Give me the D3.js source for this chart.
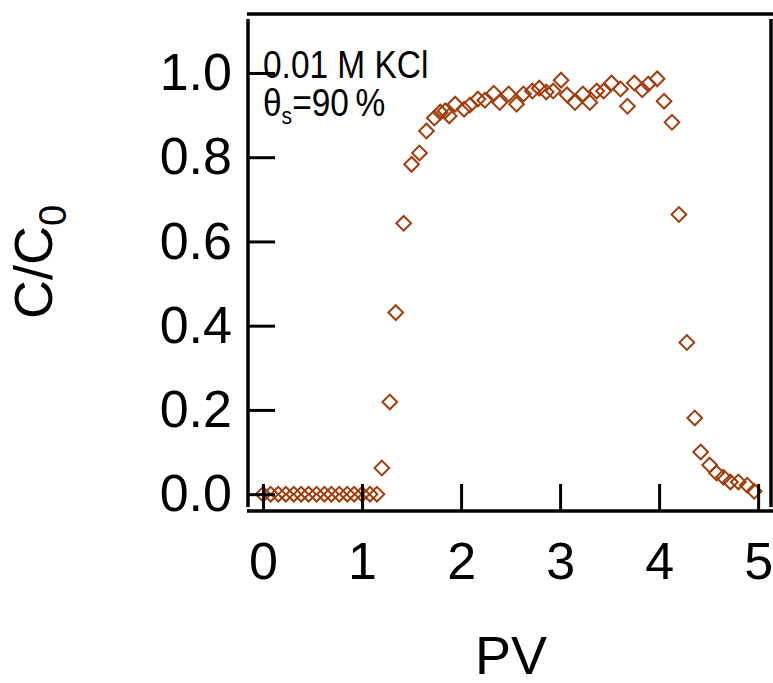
<!DOCTYPE html>
<html>
<head>
<meta charset="utf-8">
<script src="https://cdn.jsdelivr.net/npm/d3@7"></script>
<style>
  body { margin: 0; background: #fff; }
  text { font-family: "Liberation Sans", Arial, sans-serif; fill: #000; }
</style>
</head>
<body>
<svg id="chart" width="773" height="683"></svg>
<script>
// breakthrough curve, 0.01 M KCl
let pvValues = [0, 0.077, 0.154, 0.23, 0.31, 0.385, 0.46, 0.54, 0.62, 0.69, 0.77, 0.85, 0.92, 1.0, 1.08, 1.15,
    1.20, 1.28, 1.34, 1.42, 1.50, 1.58, 1.65, 1.73, 1.79, 1.84,
    1.88, 1.94, 2.03, 2.09, 2.17, 2.24, 2.33, 2.39, 2.48, 2.56,
    2.63, 2.72, 2.79, 2.86, 2.93, 3.01, 3.07, 3.15, 3.23, 3.30,
    3.37, 3.44, 3.52, 3.61, 3.68, 3.75, 3.83, 3.89, 3.98, 4.05,
    4.13, 4.20, 4.28, 4.36, 4.42, 4.51, 4.58, 4.65, 4.72, 4.80,
    4.89, 4.96];
let cValues = [0, 0, 0, 0, 0, 0, 0, 0, 0, 0, 0, 0, 0, 0, 0, 0,
    0.062, 0.219, 0.431, 0.643, 0.783, 0.81, 0.862, 0.893, 0.907, 0.91,
    0.898, 0.926, 0.914, 0.924, 0.938, 0.935, 0.952, 0.93, 0.95, 0.926,
    0.95, 0.957, 0.964, 0.955, 0.957, 0.983, 0.948, 0.93, 0.95, 0.93,
    0.957, 0.957, 0.976, 0.962, 0.921, 0.976, 0.96, 0.974, 0.986, 0.933,
    0.883, 0.664, 0.36, 0.181, 0.10, 0.069, 0.05, 0.04, 0.029, 0.029,
    0.021, 0.007];
let xTicks = [0, 1, 2, 3, 4, 5];
let yTicks = [0, 0.2, 0.4, 0.6, 0.8, 1.0];

let svg = d3.select('#chart');
let pad = {t: 14, r: 2, b: 172, l: 248};
let W = +svg.attr('width'), H = +svg.attr('height');
let markerColor = '#a23d0c';

let x = d3.scaleLinear().domain([-0.152, 5.13]).range([pad.l, W - pad.r]);
let y = d3.scaleLinear().domain([-0.04, 1.14]).range([H - pad.b, pad.t]);

// markers
let pts = pvValues.map((v, i) => ({pv: v, c: cValues[i]}));
svg.append('g').selectAll('path')
    .data(pts)
    .enter()
    .append('path')
    .attr('d', d3.symbol(d3.symbolSquare, 108))
    .attr('transform', d => `translate(${x(d.pv)},${y(d.c)}) rotate(45)`)
    .attr('fill', 'none')
    .attr('stroke', markerColor)
    .attr('stroke-width', 2);

// axes, ticks pointing inward
let yAxis = d3.axisLeft(y).tickValues(yTicks).tickFormat(d3.format('.1f'))
    .tickSizeInner(-27).tickSizeOuter(0).tickPadding(16);
let gy = svg.append('g').attr('transform', `translate(${pad.l},0)`).call(yAxis);
gy.select('.domain').remove();
gy.selectAll('line').attr('stroke-width', 3);
gy.selectAll('text').style('font-size', '52px');

let xAxis = d3.axisBottom(x).tickValues(xTicks).tickFormat(d3.format('d'))
    .tickSizeInner(-27).tickSizeOuter(0).tickPadding(31);
let gx = svg.append('g').attr('transform', `translate(0,${H - pad.b})`).call(xAxis);
gx.select('.domain').remove();
gx.selectAll('line').attr('stroke-width', 3);
gx.selectAll('text').style('font-size', '52px');

// frame
let x0 = x.range()[0], x1 = x.range()[1], yb = y.range()[0], yt = y.range()[1];
let frame = svg.append('g').attr('stroke', '#000').attr('stroke-width', 3.5);
frame.append('line').attr('x1', x0 - 1).attr('x2', W).attr('y1', yt).attr('y2', yt);
frame.append('line').attr('x1', x0 - 1).attr('x2', W).attr('y1', yb).attr('y2', yb);
frame.append('line').attr('x1', x0).attr('x2', x0).attr('y1', yt + 5).attr('y2', yb - 4);
frame.append('line').attr('x1', x1).attr('x2', x1).attr('y1', yt + 5).attr('y2', yb - 4);

// axis titles
svg.append('text')
    .attr('x', 511).attr('y', 674)
    .attr('text-anchor', 'middle')
    .style('font-size', '54px')
    .text('PV');

let yt_ = svg.append('text')
    .attr('transform', 'translate(52,262) rotate(-90)')
    .attr('text-anchor', 'middle')
    .style('font-size', '54px');
yt_.append('tspan').text('C/C');
yt_.append('tspan').attr('dy', 14).style('font-size', '38px').text('0');

// annotation (condensed look)
svg.append('text')
    .attr('transform', 'translate(263,78) scale(0.88,1)')
    .style('font-size', '38px')
    .text('0.01 M KCl');
let th = svg.append('text')
    .attr('transform', 'translate(263,116) scale(0.88,1)')
    .style('font-size', '38px');
th.append('tspan').text('θ');
th.append('tspan').attr('dy', 8).style('font-size', '24px').text('s');
th.append('tspan').attr('dy', -8).text('=90\u2009%');
</script>
</body>
</html>
